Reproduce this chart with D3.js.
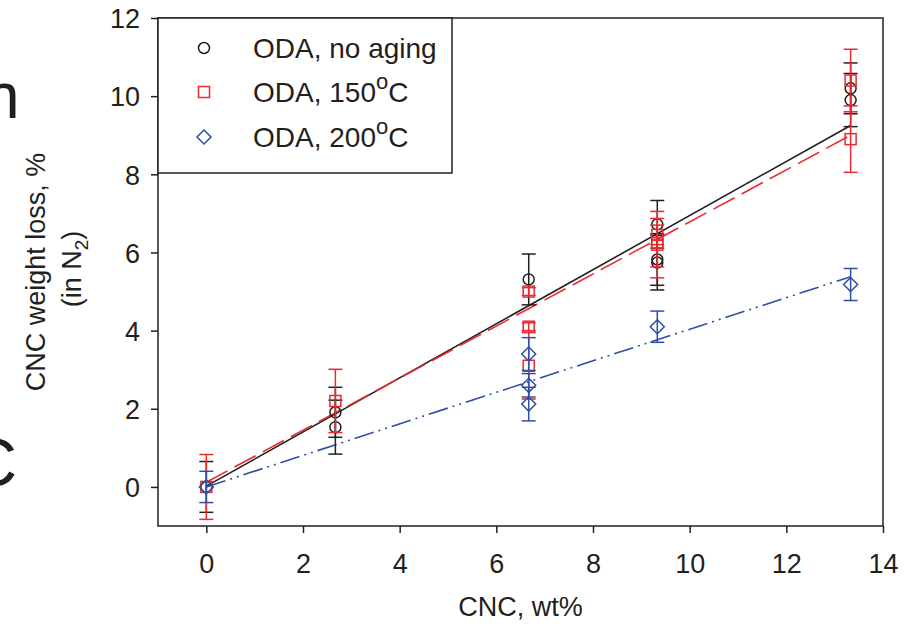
<!DOCTYPE html>
<html>
<head>
<meta charset="utf-8">
<script src="https://cdn.jsdelivr.net/npm/d3@7"></script>
<style>
  body { margin: 0; background: #fff; }
  text { font-family: "Liberation Sans", Arial, sans-serif; fill: #231f20; }
</style>
</head>
<body>
<script>
// Data
const xTicks = [0, 2, 4, 6, 8, 10, 12, 14]
const yTicks = [0, 2, 4, 6, 8, 10, 12]

// ODA, no aging
const noAgingX = [0, 2.67, 2.67, 6.67, 9.33, 9.33, 9.33, 13.33, 13.33]
const noAgingY = [0, 1.91, 1.53, 5.31, 6.72, 5.82, 5.74, 10.2, 9.9]
const noAgingErr = [0.65, 0.64, 0.69, 0.65, 0.61, 0.66, 0.7, 0.65, 0.68]

// ODA, 150oC
const aged150X = [0, 2.67, 6.67, 6.67, 6.67, 9.33, 9.33, 9.33, 13.33, 13.33]
const aged150Y = [0, 2.2, 5.0, 4.1, 3.1, 6.45, 6.2, 6.25, 10.4, 8.9]
const aged150Err = [0.83, 0.81, 0.1, 0.1, 0.85, 0.25, 0.85, 0.62, 0.8, 0.85]

// ODA, 200oC
const aged200X = [0, 6.67, 6.67, 6.67, 9.33, 13.33]
const aged200Y = [0, 3.4, 2.6, 2.12, 4.1, 5.18]
const aged200Err = [0.4, 0.42, 0.3, 0.43, 0.4, 0.41]

// linear fits, values at the first and last loading
const fitX = [0, 13.33]
const fitNoAging = [0.02, 9.25]
const fit150 = [0.12, 9.0]
const fit200 = [0.0, 5.38]

const width = 913
const height = 627
const plotLeft = 158, plotRight = 883, plotTop = 18, plotBottom = 526

const x = d3.scaleLinear().domain([-1, 14]).range([plotLeft, plotRight])
const y = d3.scaleLinear().domain([-1, 12]).range([plotBottom, plotTop])

const svg = d3.select("body").append("svg")
  .attr("width", width)
  .attr("height", height)
  .attr("viewBox", `0 0 ${width} ${height}`)

// clipped letters from the neighbouring panel
svg.append("text").attr("x", -16).attr("y", 118)
  .attr("font-size", 64).text("n")
svg.append("text").attr("x", -32).attr("y", 486)
  .attr("font-size", 68).text("C")

const series = [
  { name: "ODA, no aging", sup: null, xs: noAgingX, ys: noAgingY, err: noAgingErr,
    fit: fitNoAging, color: "#231f20", dash: null, shape: "circle" },
  { name: "ODA, 150", sup: "o", after: "C", xs: aged150X, ys: aged150Y, err: aged150Err,
    fit: fit150, color: "#ea2a30", dash: "24,8", shape: "square" },
  { name: "ODA, 200", sup: "o", after: "C", xs: aged200X, ys: aged200Y, err: aged200Err,
    fit: fit200, color: "#2f50a2", dash: "20,5,2,5,2,5", shape: "diamond" }
]

function drawMarker(g, shape, cx, cy, color) {
  if (shape === "circle") {
    g.append("circle").attr("cx", cx).attr("cy", cy).attr("r", 5.5)
      .attr("fill", "none").attr("stroke", color).attr("stroke-width", 1.5)
  } else if (shape === "square") {
    g.append("rect").attr("x", cx - 5.5).attr("y", cy - 5.5)
      .attr("width", 11).attr("height", 11)
      .attr("fill", "none").attr("stroke", color).attr("stroke-width", 1.5)
  } else {
    const s = 7
    g.append("path")
      .attr("d", `M${cx},${cy - s}L${cx + s},${cy}L${cx},${cy + s}L${cx - s},${cy}Z`)
      .attr("fill", "none").attr("stroke", color).attr("stroke-width", 1.5)
  }
}

// fit lines
const line = d3.line().x(d => x(d[0])).y(d => y(d[1]))
series.forEach(s => {
  svg.append("path")
    .attr("d", line(fitX.map((v, i) => [v, s.fit[i]])))
    .attr("fill", "none")
    .attr("stroke", s.color)
    .attr("stroke-width", 1.6)
    .attr("stroke-dasharray", s.dash)
})

// error bars and markers
series.forEach(s => {
  const g = svg.append("g")
  s.xs.forEach((xv, i) => {
    const cx = x(xv)
    const y1 = y(s.ys[i] + s.err[i]), y0 = y(s.ys[i] - s.err[i])
    g.append("line").attr("x1", cx).attr("x2", cx).attr("y1", y1).attr("y2", y0)
      .attr("stroke", s.color).attr("stroke-width", 1.5)
    ;[y1, y0].forEach(cy => {
      g.append("line").attr("x1", cx - 7).attr("x2", cx + 7).attr("y1", cy).attr("y2", cy)
        .attr("stroke", s.color).attr("stroke-width", 1.5)
    })
  })
  s.xs.forEach((xv, i) => drawMarker(g, s.shape, x(xv), y(s.ys[i]), s.color))
})

// axes
const xAxis = svg.append("g")
  .attr("transform", `translate(0,${plotBottom})`)
  .call(d3.axisBottom(x).tickValues(xTicks).tickSize(7).tickSizeOuter(0).tickPadding(21))
const yAxis = svg.append("g")
  .attr("transform", `translate(${plotLeft},0)`)
  .call(d3.axisLeft(y).tickValues(yTicks).tickSize(7).tickSizeOuter(0).tickPadding(11))
;[xAxis, yAxis].forEach(a => {
  a.select(".domain").remove()
  a.selectAll(".tick line").attr("stroke", "#231f20").attr("stroke-width", 1.5)
  a.selectAll(".tick text").attr("font-size", 27).attr("font-family", null).attr("fill", "#231f20")
})
yAxis.selectAll(".tick text").attr("dy", "0.36em")

// frame
svg.append("rect")
  .attr("x", plotLeft).attr("y", plotTop)
  .attr("width", plotRight - plotLeft).attr("height", plotBottom - plotTop)
  .attr("fill", "none").attr("stroke", "#231f20").attr("stroke-width", 1.5)

// axis titles
svg.append("text")
  .attr("x", (plotLeft + plotRight) / 2).attr("y", 616)
  .attr("text-anchor", "middle").attr("font-size", 27)
  .text("CNC, wt%")

svg.append("text")
  .attr("transform", `translate(45,${(plotTop + plotBottom) / 2}) rotate(-90)`)
  .attr("text-anchor", "middle").attr("font-size", 27)
  .text("CNC weight loss, %")
const t2 = svg.append("text")
  .attr("transform", `translate(81,${(plotTop + plotBottom) / 2 - 3}) rotate(-90)`)
  .attr("text-anchor", "middle").attr("font-size", 27)
t2.append("tspan").text("(in N")
t2.append("tspan").attr("font-size", 19).attr("dy", 7).text("2")
t2.append("tspan").attr("dy", -7).text(")")

// legend
const legend = svg.append("g")
legend.append("rect")
  .attr("x", plotLeft).attr("y", plotTop)
  .attr("width", 452 - plotLeft).attr("height", 173 - plotTop)
  .attr("fill", "#fff").attr("stroke", "#231f20").attr("stroke-width", 1.5)
const rowY = [48, 92, 137]
series.forEach((s, i) => {
  drawMarker(legend, s.shape, 204, rowY[i], s.color)
  const t = legend.append("text")
    .attr("x", 253).attr("y", rowY[i] + 10)
    .attr("font-size", 28)
  t.append("tspan").text(s.name)
  if (s.sup) {
    t.append("tspan").attr("font-size", 22).attr("dy", -13).text(s.sup)
    t.append("tspan").attr("dy", 13).text(s.after)
  }
})
</script>
</body>
</html>
